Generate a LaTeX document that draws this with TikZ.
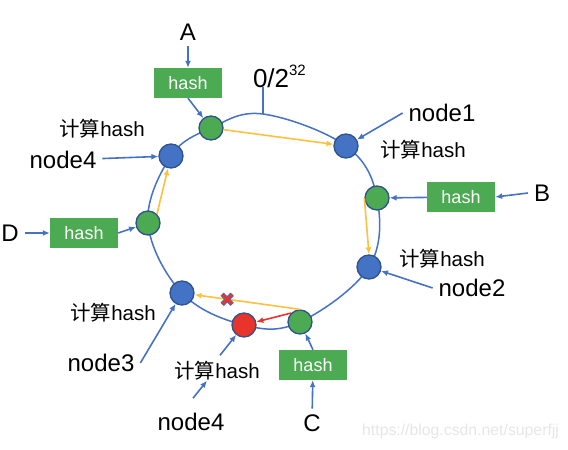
\documentclass[tikz,border=0pt]{standalone}
\usepackage{fontspec}
\setmainfont{Liberation Sans}
\newfontfamily\cjk{Noto Sans CJK SC}
\usetikzlibrary{arrows.meta,backgrounds}
\definecolor{ringblue}{HTML}{4472C4}
\definecolor{darkblue}{HTML}{2F528F}
\definecolor{hashgreen}{HTML}{4CAA52}
\definecolor{arrowyellow}{HTML}{FFC13D}
\definecolor{hitred}{HTML}{E8342A}
\definecolor{markgray}{HTML}{E6E6E6}
\newcommand{\calchash}{{\cjk 计算}hash}
\tikzset{
  ring/.style={ringblue,line width=1.5pt},
  barrow/.style={ringblue,line width=1.6pt,-{Latex[length=7pt,width=6pt]}},
  yarrow/.style={arrowyellow,line width=1.6pt,-{Latex[length=7pt,width=6pt]}},
  rarrow/.style={hitred,line width=1.6pt,-{Latex[length=7pt,width=6pt]}},
  server/.style={circle,draw=darkblue,line width=1.3pt,fill=ringblue,minimum size=24pt,inner sep=0pt},
  keypt/.style={server,fill=hashgreen},
  hashbox/.style={fill=hashgreen,text=white,minimum width=68pt,minimum height=30pt,inner sep=0pt,font=\fontsize{18}{18}\selectfont},
  txt/.style={font=\fontsize{24}{24}\selectfont,inner sep=0pt,outer sep=6pt},
  hashlbl/.style={font=\fontsize{20.5}{21}\selectfont,inner sep=0pt}
}
\begin{document}
\begin{tikzpicture}[x=1pt,y=-1pt]
\useasboundingbox (0,0) rectangle (568,450);
%SERVERS AND KEYS
\node[keypt] (gA) at (211,128) {};
\node[server] (n4) at (171,156) {};
\node[server] (n1) at (346,146) {};
\node[keypt] (gB) at (377,198) {};
\node[server] (n2) at (369,267) {};
\node[keypt] (gC) at (300,322) {};
\node[server,fill=hitred] (n4new) at (244,325) {};
\node[server] (n3) at (182,293) {};
\node[keypt] (gD) at (148,223) {};
\coordinate (top) at (263,114);

%RING
\begin{scope}[on background layer]
\draw[ring] plot[smooth cycle,tension=0.62] coordinates {(top) (n1.center) (gB.center) (n2.center) (gC.center) (n4new.center) (n3.center) (gD.center) (n4.center) (gA.center)};
\end{scope}
\node[txt,font=\fontsize{26}{26}\selectfont,anchor=base west,outer sep=0pt] (zero) at (253,87) {0/2\raisebox{12pt}{\fontsize{15}{15}\selectfont 32}};
\draw[ring] (top) -- (top |- zero.base);

%LABELS
\node[txt] (A) at (188,32) {A};
\node[hashbox] (hA) at (188,83) {hash};
\node[txt] (B) at (542,193) {B};
\node[hashbox] (hB) at (461,197) {hash};
\node[txt] (C) at (312,423) {C};
\node[hashbox] (hC) at (313,365) {hash};
\node[txt] (D) at (10,233) {D};
\node[hashbox] (hD) at (84,233) {hash};
\node[txt] (l1) at (442,113) {node1};
\node[txt] (l2) at (472,288) {node2};
\node[txt] (l3) at (101,363) {node3};
\node[txt] (l4) at (63,160) {node4};
\node[txt] (l4new) at (191,422) {node4};
\node[hashlbl] (c4) at (102,129) {\calchash};
\node[hashlbl] (c1) at (423,150) {\calchash};
\node[hashlbl] (c2) at (442,259) {\calchash};
\node[hashlbl] (c3) at (113,313) {\calchash};
\node[hashlbl] (c4new) at (217,371) {\calchash};

%ARROWS
\draw[barrow] (A) -- (hA);
\draw[barrow] (hA.south) -- (gA);
\draw[barrow] (l1.west) -- (n1);
\draw[barrow] (B.west) -- (hB.east);
\draw[barrow] (hB) -- (gB);
\draw[barrow] (l2.west) -- (n2);
\draw[barrow] (C) -- (hC);
\draw[barrow] (hC.north) -- (gC);
\draw[barrow] (D) -- (hD);
\draw[barrow] (hD.east) -- (gD);
\draw[barrow] (l3.east) -- (n3);
\draw[barrow] (l4) -- (n4);
\draw[barrow] ([shift={(2,-9)}]l4new.north) -- ([xshift=-10pt]c4new.south);
\draw[barrow] ([shift={(3,-6)}]c4new.north) -- (n4new);

\draw[yarrow] (gA) -- (n1);
\draw[yarrow] (gB.west) -- (n2.north);
\draw[yarrow] (gD.north east) -- (n4);
\draw[yarrow] (gC.north) -- (n3) coordinate[pos=0.69] (miss);
\draw[rarrow] (gC.north west) -- (n4new);

%MISSED MARK
\foreach \c/\w in {ringblue/4.6pt,hitred/2.6pt}
  \draw[\c,line width=\w] ([shift={(-5,-5)}]miss) -- ([shift={(5,5)}]miss)
    ([shift={(-5,5)}]miss) -- ([shift={(5,-5)}]miss);

\node[font=\fontsize{15.8}{16}\selectfont,text=markgray,anchor=west,inner sep=0pt] (mark) at (362,431) {https://blog.csdn.net/superfjj};
\end{tikzpicture}
\end{document}
